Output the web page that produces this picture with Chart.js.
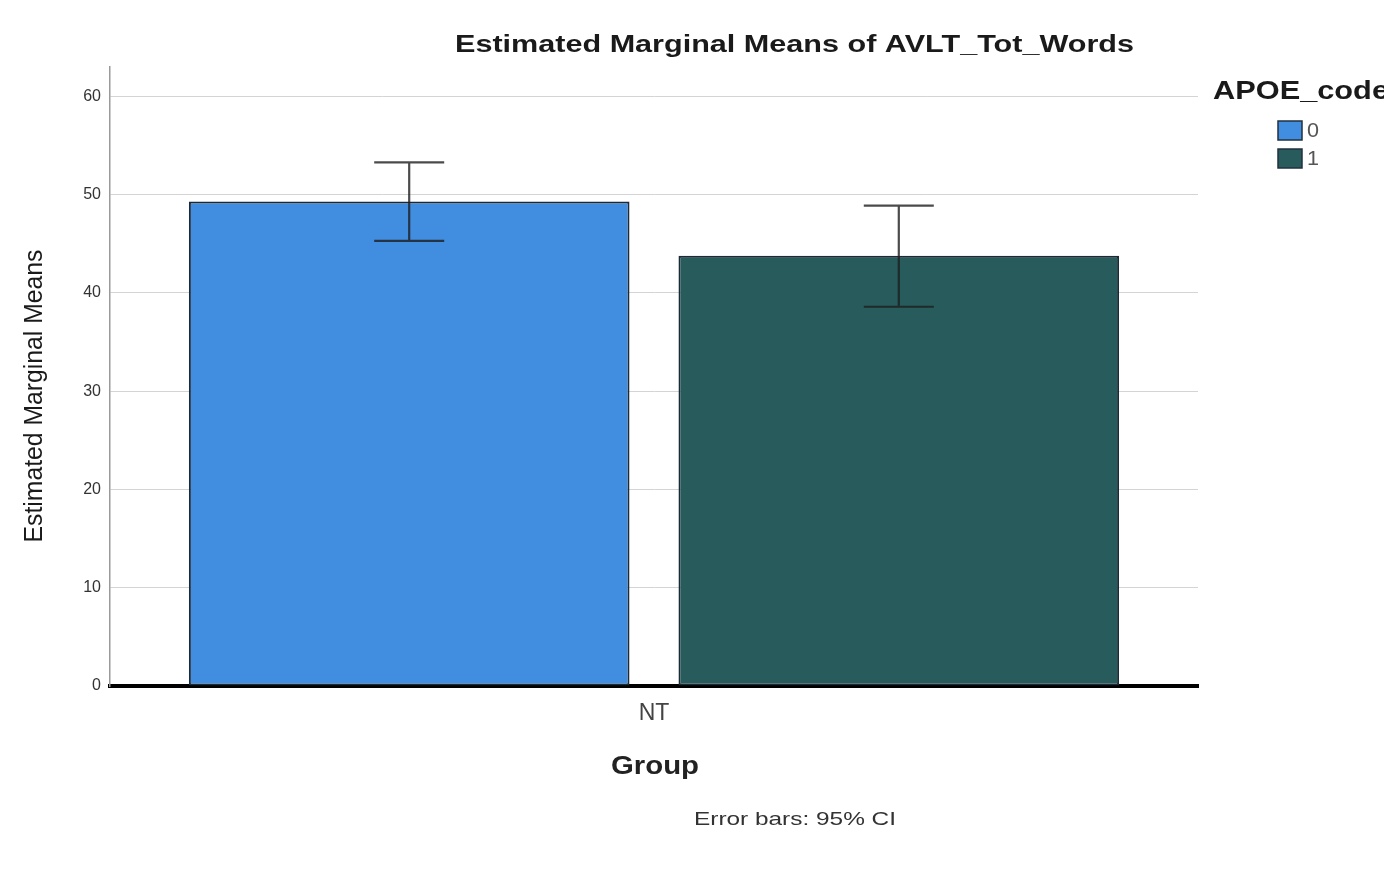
<!DOCTYPE html>
<html>
<head>
<meta charset="utf-8">
<title>Estimated Marginal Means of AVLT_Tot_Words</title>
<script src="https://cdn.jsdelivr.net/npm/chart.js@4/dist/chart.umd.min.js"></script>
<style>
  html, body { margin: 0; padding: 0; background: #ffffff; }
  #wrap { width: 1384px; height: 878px; position: relative; }
</style>
</head>
<body>
<div id="wrap"><canvas id="chart" width="1384" height="878"></canvas></div>
<script>
// Group on the x axis
const categories = ['NT'];
// APOE_code levels (one bar each)
const seriesLabels = ['0', '1'];
// Estimated marginal means per APOE_code level
const means = [49.3, 43.8];
// 95% confidence interval bounds
const ciLower = [45.3, 38.6];
const ciUpper = [53.3, 48.9];
// Value axis ticks
const yTicks = [0, 10, 20, 30, 40, 50, 60];
const yMax = 63;

const seriesColors = ['#418ddf', '#275b5c'];
const FONT = '"Liberation Sans", Arial, Helvetica, sans-serif';

// Draws text centred on (cx, cy), scaled horizontally to a given width
function fitText(ctx, text, cx, cy, font, width, color, angle) {
  ctx.save();
  ctx.font = font;
  ctx.fillStyle = color;
  ctx.textAlign = 'center';
  ctx.textBaseline = 'middle';
  ctx.translate(cx, cy);
  if (angle) ctx.rotate(angle);
  const w = ctx.measureText(text).width;
  ctx.scale(width / w, 1);
  ctx.fillText(text, 0, 0);
  ctx.restore();
}

// 95% CI whiskers, positioned through the chart's own scales
const errorBars = {
  id: 'errorBars',
  afterDatasetsDraw(chart) {
    const ctx = chart.ctx;
    const y = chart.scales.y;
    chart.data.datasets.forEach((ds, i) => {
      const meta = chart.getDatasetMeta(i);
      meta.data.forEach((bar, j) => {
        const x = bar.x;
        const yLo = y.getPixelForValue(ds.ciLower[j]);
        const yHi = y.getPixelForValue(ds.ciUpper[j]);
        const cap = 35;
        ctx.save();
        ctx.strokeStyle = 'rgba(30,30,30,0.8)';
        ctx.lineWidth = 2.2;
        ctx.beginPath();
        ctx.moveTo(x, yLo); ctx.lineTo(x, yHi);
        ctx.moveTo(x - cap, yHi); ctx.lineTo(x + cap, yHi);
        ctx.moveTo(x - cap, yLo); ctx.lineTo(x + cap, yLo);
        ctx.stroke();
        ctx.restore();
      });
    });
  }
};

// Title, axis titles, legend and footnote
const annotations = {
  id: 'annotations',
  afterDraw(chart) {
    const ctx = chart.ctx;
    fitText(ctx, 'Estimated Marginal Means of AVLT_Tot_Words', 794.5, 45,
      'bold 24px ' + FONT, 679, '#1a1a1a');
    fitText(ctx, 'Estimated Marginal Means', 35, 396,
      '25px ' + FONT, 293, '#1a1a1a', -Math.PI / 2);
    fitText(ctx, 'Group', 655, 767, 'bold 25px ' + FONT, 88, '#222222');
    fitText(ctx, 'Error bars: 95% CI', 795, 820, '19px ' + FONT, 202, '#333333');

    // Legend
    ctx.save();
    ctx.font = 'bold 26px ' + FONT;
    ctx.fillStyle = '#1a1a1a';
    ctx.textAlign = 'left';
    ctx.textBaseline = 'middle';
    const lw = ctx.measureText('APOE_code').width;
    ctx.translate(1213, 92);
    ctx.scale(176 / lw, 1);
    ctx.fillText('APOE_code', 0, 0);
    ctx.restore();

    chart.data.datasets.forEach((ds, i) => {
      const top = 121 + i * 28;
      ctx.save();
      ctx.fillStyle = ds.backgroundColor;
      ctx.strokeStyle = '#22313f';
      ctx.lineWidth = 1.5;
      ctx.fillRect(1278, top, 24, 19);
      ctx.strokeRect(1278, top, 24, 19);
      ctx.restore();
      fitText(ctx, ds.label, 1313, top + 10, '21px ' + FONT, 12, '#555555');
    });
  }
};

const chart = new Chart(document.getElementById('chart'), {
  type: 'bar',
  data: {
    labels: categories,
    datasets: seriesLabels.map((label, i) => ({
      label: label,
      data: [means[i]],
      ciLower: [ciLower[i]],
      ciUpper: [ciUpper[i]],
      backgroundColor: seriesColors[i],
      borderColor: '#1c2a36',
      borderWidth: 2,
      borderSkipped: false,
      categoryPercentage: 0.9,
      barPercentage: 0.9
    }))
  },
  options: {
    responsive: false,
    animation: false,
    events: [],
    layout: { padding: { left: 0, top: 67, right: 186, bottom: 0 } },
    plugins: {
      legend: { display: false },
      title: { display: false },
      tooltip: { enabled: false }
    },
    scales: {
      x: {
        grid: { display: false, drawTicks: false },
        border: { display: true, color: '#000000', width: 4 },
        ticks: { color: '#444444', padding: 14, font: { family: FONT, size: 23 } },
        afterFit(scale) { scale.height = 192; }
      },
      y: {
        min: 0,
        max: yMax,
        afterBuildTicks(scale) { scale.ticks = yTicks.map(v => ({ value: v })); },
        grid: { color: '#d4d4d4', lineWidth: 1, drawTicks: false },
        border: { display: true, color: '#9a9a9a', width: 1.5 },
        ticks: { color: '#333333', padding: 9, font: { family: FONT, size: 16 } },
        afterFit(scale) { scale.width = 110; }
      }
    }
  },
  plugins: [errorBars, annotations]
});
</script>
</body>
</html>
